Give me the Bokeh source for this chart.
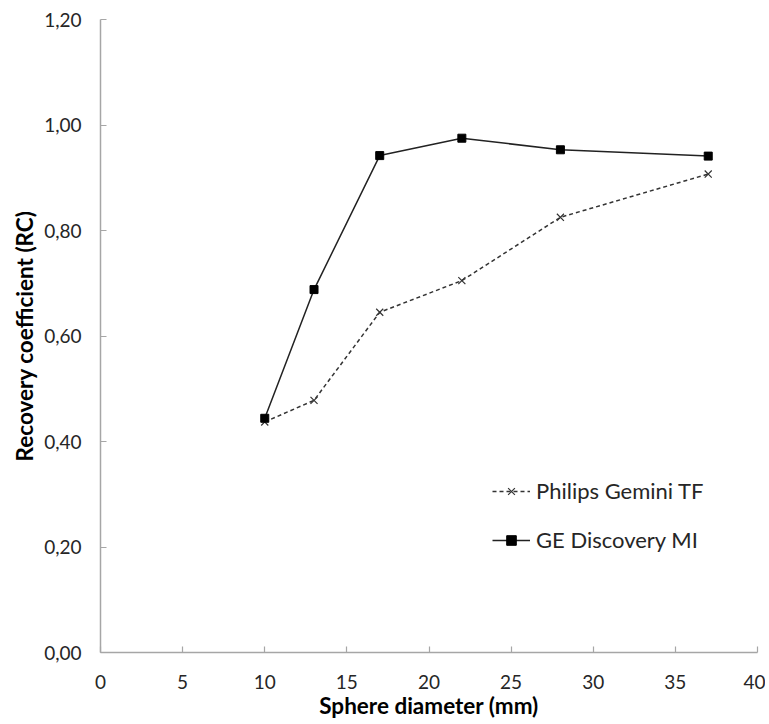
from bokeh.plotting import figure
from bokeh.models import Range1d, FixedTicker, CustomJSTickFormatter, Legend, LegendItem
from bokeh.embed import file_html
from bokeh.resources import INLINE

diameter = [10, 13, 17, 22, 28, 37]
philips_rc = [0.437, 0.478, 0.645, 0.705, 0.825, 0.907]
ge_rc = [0.444, 0.688, 0.942, 0.975, 0.953, 0.941]
x_ticks = [0, 5, 10, 15, 20, 25, 30, 35, 40]
y_ticks = [0.0, 0.2, 0.4, 0.6, 0.8, 1.0, 1.2]

FONT = "Lato"

p = figure(width=765, height=722, output_backend="svg", toolbar_location=None,
           x_range=Range1d(0, 40), y_range=Range1d(0, 1.2),
           min_border_left=100, min_border_right=8, min_border_top=19, min_border_bottom=70)
p.outline_line_color = None
p.xgrid.visible = False
p.ygrid.visible = False

for ax in (p.xaxis[0], p.yaxis[0]):
    ax.axis_line_color = "#a6a6a6"
    ax.axis_line_width = 1.5
    ax.major_tick_line_color = "#a6a6a6"
    ax.major_tick_line_width = 1.2
    ax.major_tick_in = 6
    ax.major_tick_out = 0
    ax.minor_tick_line_color = None
    ax.major_label_text_font = FONT
    ax.major_label_text_font_size = "19px"
    ax.major_label_text_color = "#262626"
    ax.axis_label_text_font = FONT
    ax.axis_label_text_font_size = "22.5px"
    ax.axis_label_text_font_style = "bold"
    ax.axis_label_text_color = "#000000"

p.xaxis.ticker = FixedTicker(ticks=x_ticks)
p.yaxis.ticker = FixedTicker(ticks=y_ticks)
p.yaxis.formatter = CustomJSTickFormatter(code="return tick.toFixed(2).replace('.', ',');")
p.xaxis.axis_label = "Sphere diameter (mm)"
p.yaxis.axis_label = "Recovery coefficient (RC)"
p.xaxis.major_label_standoff = 22
p.xaxis.axis_label_standoff = 0
p.yaxis.major_label_standoff = 19
p.yaxis.axis_label_standoff = 3

l1 = p.line(diameter, philips_rc, line_color="#333333", line_width=1.5, line_dash="4 3")
m1 = p.scatter(diameter, philips_rc, marker="x", size=10, line_color="#333333", line_width=1.2)
l2 = p.line(diameter, ge_rc, line_color="#222222", line_width=1.5)
m2 = p.scatter(diameter, ge_rc, marker="square", size=8, fill_color="#000000", line_color="#000000")

legend = Legend(items=[LegendItem(label="Philips Gemini TF", renderers=[l1, m1]),
                       LegendItem(label="GE Discovery MI", renderers=[l2, m2])],
                location=(392, 99), padding=0, margin=0, spacing=22,
                glyph_width=38, glyph_height=24, label_height=24, label_standoff=6,
                label_text_font=FONT, label_text_font_size="22px", label_text_color="#262626",
                border_line_color=None, background_fill_alpha=0)
p.add_layout(legend, "center")

open("out.html", "w").write(file_html(p, INLINE))
